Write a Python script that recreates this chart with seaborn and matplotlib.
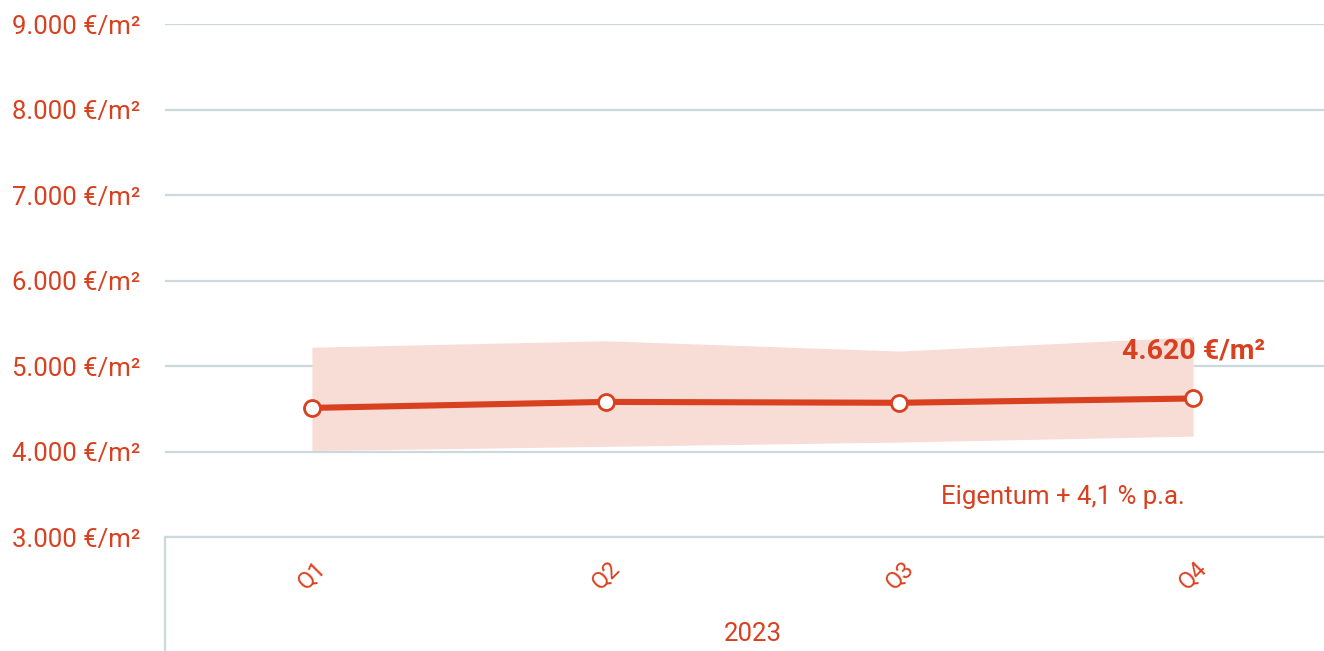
import matplotlib
matplotlib.use("Agg")
import matplotlib.pyplot as plt
import seaborn as sns
import pandas as pd

# Quarterly average purchase prices (€/m²) with the range band
quarters = ["Q1", "Q2", "Q3", "Q4"]
price = [4510, 4580, 4570, 4620]
band_low = [4010, 4060, 4110, 4180]
band_high = [5220, 5295, 5175, 5340]
y_ticks = [3000, 4000, 5000, 6000, 7000, 8000, 9000]
year_label = "2023"
end_label = "4.620 €/m²"
growth_label = "Eigentum + 4,1 % p.a."

RED = "#d9401f"
BAND = "#f8ddd7"
GRID = "#cbd8dd"

sns.set_theme(style="white")
plt.rcParams["font.family"] = ["Roboto", "DejaVu Sans"]

df = pd.DataFrame({"quarter": quarters, "price": price,
                   "pos": range(len(quarters))})

fig = plt.figure(figsize=(13.24, 6.51), dpi=100)
W, H = 1324, 651
left, right, top, bottom = 165, 1340, 24, 537
ax = fig.add_axes([left / W, 1 - bottom / H, (right - left) / W, (bottom - top) / H])

ax.fill_between(df["pos"], band_low, band_high, color=BAND, lw=0, zorder=1)
sns.lineplot(data=df, x="pos", y="price", ax=ax, color=RED, lw=4.4,
             marker="o", markersize=11.5, markerfacecolor="white",
             markeredgecolor=RED, markeredgewidth=2, zorder=3)

ax.set_xlim(-0.5, 3.5)
ax.set_ylim(3000, 9000)
ax.set_yticks(y_ticks)
ax.set_yticklabels([f"{v:,.0f}".replace(",", ".") + " €/m²" for v in y_ticks],
                   color=RED, fontsize=18.5)
ax.set_xticks(df["pos"])
ax.set_xticklabels(quarters, rotation=45, color=RED, fontsize=17, ha="center")
ax.tick_params(axis="x", pad=14, length=0)
ax.tick_params(axis="y", pad=18, length=0)
ax.set_xlabel("")
ax.set_ylabel("")
ax.grid(axis="y", color=GRID, lw=1.6)
ax.set_axisbelow(True)
for s in ["top", "right", "left"]:
    ax.spines[s].set_visible(False)
ax.spines["bottom"].set_color(GRID)
ax.spines["bottom"].set_linewidth(1.6)

# Category group separator below the axis
ax.plot([0, 0], [0, -0.23], transform=ax.transAxes, color=GRID, lw=1.6,
        clip_on=False)
ax.text(0.5, -0.189, year_label, transform=ax.transAxes, ha="center",
        va="center", color=RED, fontsize=18.5)

ax.annotate(end_label, (df["pos"].iloc[-1], price[-1]), xytext=(0, 47),
            textcoords="offset pixels", ha="center", va="center",
            color=RED, fontsize=20.5, fontweight="bold")
ax.annotate(growth_label, (df["pos"].iloc[-1], price[-1]), xytext=(-8, -99),
            textcoords="offset pixels", ha="right", va="center",
            color=RED, fontsize=18.5)

fig.savefig("out.png", dpi=100)
